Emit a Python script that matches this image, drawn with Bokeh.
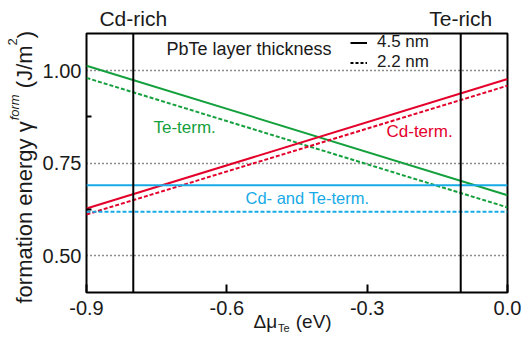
import math
from bokeh.plotting import figure
from bokeh.models import (Label, Span, FixedTicker, PrintfTickFormatter, LinearAxis,
                          Range1d, Legend, LegendItem)
from bokeh.embed import file_html
from bokeh.resources import INLINE

# ---------------- data ----------------
mu_te = [-0.9, 0.0]                 # chemical potential Δμ_Te (eV)
te_term_45 = [1.013, 0.663]         # Te-terminated, 4.5 nm
te_term_22 = [0.980, 0.630]         # Te-terminated, 2.2 nm
cd_term_45 = [0.627, 0.977]         # Cd-terminated, 4.5 nm
cd_term_22 = [0.611, 0.959]         # Cd-terminated, 2.2 nm
cdte_term_45 = [0.690, 0.690]       # Cd- and Te-terminated, 4.5 nm
cdte_term_22 = [0.618, 0.618]       # Cd- and Te-terminated, 2.2 nm
rich_limits = [-0.8, -0.1]
rich_labels = ["Cd-rich", "Te-rich"]
x_ticks = [-0.9, -0.6, -0.3, 0.0]
y_ticks = [0.50, 0.75, 1.00]
y_minor = [0.625, 0.875]
thickness_labels = ["4.5 nm", "2.2 nm"]
term_labels = ["Te-term.", "Cd-term.", "Cd- and Te-term."]

FONT = "Liberation Sans"
GREEN = "#14a03c"
RED = "#e4002b"
CYAN = "#18aae6"
INK = "#1a1a1a"

X0, X1 = -0.9, 0.0
Y0, Y1 = 0.40, 1.10
L, R, T, B = 86, 507, 33, 292


def px2x(px):
    return X0 + (px - L) * (X1 - X0) / (R - L)


def py2y(py):
    return Y1 - (py - T) * (Y1 - Y0) / (B - T)


p = figure(width=522, height=349, x_range=Range1d(X0, X1), y_range=Range1d(Y0, Y1),
           output_backend="svg", toolbar_location=None,
           min_border_left=L, min_border_right=522 - R,
           min_border_top=T, min_border_bottom=349 - B)
p.title.visible = False
p.background_fill_color = "white"
p.border_fill_color = "white"
p.outline_line_color = "black"
p.outline_line_width = 2
p.outline_line_alpha = 1.0

# x axis
p.xaxis.ticker = FixedTicker(ticks=x_ticks)
p.xaxis.formatter = PrintfTickFormatter(format="%.1f")
p.xaxis.axis_line_color = None
p.xaxis.major_tick_in = 8
p.xaxis.major_tick_out = 0
p.xaxis.major_tick_line_width = 2
p.xaxis.major_tick_line_color = "black"
p.xaxis.major_label_text_font = FONT
p.xaxis.major_label_text_font_size = "20px"
p.xaxis.major_label_text_color = INK
p.xaxis.major_label_standoff = 8

# y axis
p.yaxis.ticker = FixedTicker(ticks=y_ticks, minor_ticks=y_minor)
p.yaxis.formatter = PrintfTickFormatter(format="%.2f")
p.yaxis.axis_line_color = None
p.yaxis.major_tick_in = 0
p.yaxis.major_tick_out = 0
p.yaxis.minor_tick_in = 5
p.yaxis.minor_tick_out = 0
p.yaxis.minor_tick_line_width = 2
p.yaxis.minor_tick_line_color = "black"
p.yaxis.major_label_text_font = FONT
p.yaxis.major_label_text_font_size = "20px"
p.yaxis.major_label_text_color = INK
p.yaxis.major_label_standoff = 5

p.xgrid.visible = False
p.ygrid.ticker = FixedTicker(ticks=y_ticks)
p.ygrid.grid_line_color = INK
p.ygrid.grid_line_dash = "1 3"
p.ygrid.grid_line_width = 1.3


def text_axis(side, ticks, labels, size, standoff, style="normal", orientation="horizontal"):
    """An axis that only carries text pieces (no line, no tick marks)."""
    ax = LinearAxis(ticker=FixedTicker(ticks=ticks),
                    major_label_overrides={t: s for t, s in zip(ticks, labels)},
                    axis_line_color=None, major_tick_in=0, major_tick_out=0,
                    minor_tick_in=0, minor_tick_out=0,
                    major_label_standoff=standoff,
                    major_label_orientation=orientation,
                    major_label_text_font=FONT, major_label_text_font_size=size,
                    major_label_text_font_style=style, major_label_text_color=INK)
    p.add_layout(ax, side)
    return ax


# Cd-rich / Te-rich above the frame
text_axis("above", rich_limits, rich_labels, "21px", 4)

# y-axis title: formation energy γ^form (J/m^2), reading upward
text_axis("left", [py2y(211.9), py2y(66.3), py2y(34.0)],
          ["formation energy \u03b3", "(J/m", ")"], "22px", 2, orientation="vertical")
text_axis("left", [py2y(106.8)], ["form"], "13px", -13, style="italic", orientation="vertical")
text_axis("left", [py2y(41.3)], ["2"], "13px", -13, orientation="vertical")

# x-axis title: Δμ_Te (eV)
text_axis("below", [px2x(264.8), px2x(313.2)], ["\u0394\u03bc", "(eV)"], "19px", -7)
text_axis("below", [px2x(283.4)], ["Te"], "11px", -13)

# ---------------- lines ----------------
p.line(mu_te, te_term_45, line_color=GREEN, line_width=2)
p.line(mu_te, te_term_22, line_color=GREEN, line_width=2, line_dash="4 2")
p.line(mu_te, cd_term_45, line_color=RED, line_width=2)
p.line(mu_te, cd_term_22, line_color=RED, line_width=2, line_dash="4 2")
p.line(mu_te, cdte_term_45, line_color=CYAN, line_width=2)
p.line(mu_te, cdte_term_22, line_color=CYAN, line_width=2, line_dash="4 2")

for loc in rich_limits:
    p.add_layout(Span(location=loc, dimension="height", line_color="black", line_width=2))

# ---------------- legend (line style = layer thickness) ----------------
r45 = p.line(mu_te, cdte_term_45, line_color="black", line_width=2, visible=False)
r22 = p.line(mu_te, cdte_term_22, line_color="black", line_width=2, line_dash="3 2",
             visible=False)
legend = Legend(items=[LegendItem(label=thickness_labels[0], renderers=[r45]),
                       LegendItem(label=thickness_labels[1], renderers=[r22])],
                location=(350 - L, B - 72), orientation="vertical",
                glyph_width=17, glyph_height=17, label_height=17, label_standoff=10,
                spacing=0, padding=0, margin=0, border_line_color=None,
                background_fill_alpha=0, inactive_fill_alpha=0, label_text_font=FONT,
                label_text_font_size="17px", label_text_color=INK)
p.add_layout(legend)

p.add_layout(Label(x=px2x(166), y=py2y(58.5), text="PbTe layer thickness",
                   text_font=FONT, text_font_size="18px", text_color=INK))

# ---------------- term labels ----------------
p.add_layout(Label(x=px2x(153), y=py2y(136), text=term_labels[0], text_font=FONT,
                   text_font_size="17px", text_color=GREEN))
p.add_layout(Label(x=px2x(386), y=py2y(140), text=term_labels[1], text_font=FONT,
                   text_font_size="17px", text_color=RED))
p.add_layout(Label(x=px2x(245), y=py2y(206), text=term_labels[2], text_font=FONT,
                   text_font_size="16.5px", text_color=CYAN))

open("out.html", "w").write(file_html(p, INLINE))
